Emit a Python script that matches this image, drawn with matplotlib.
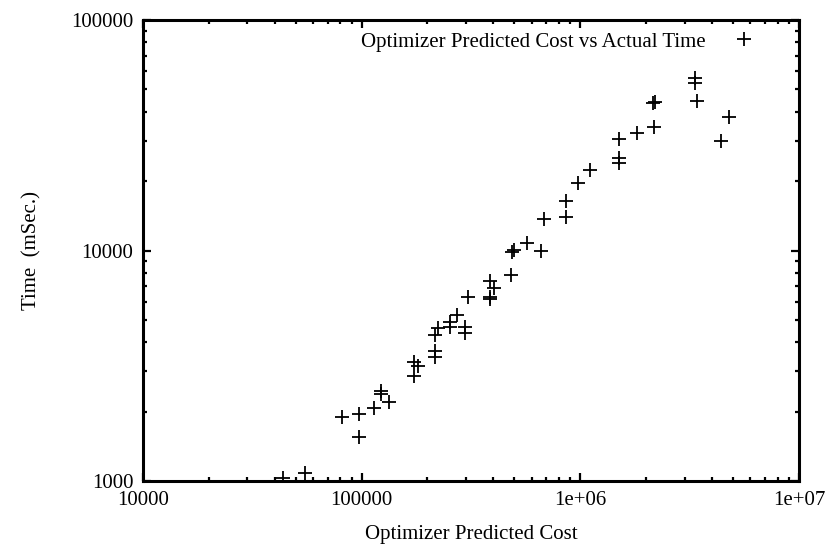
import matplotlib.pyplot as plt
import numpy as np

plt.rcParams["font.family"] = ["Liberation Serif", "DejaVu Serif"]

# optimizer cost estimate vs measured run time per query
predicted_cost = [
    43600, 55000, 81300, 97200, 97200, 113800, 122500, 122500, 133300,
    173500, 173500, 180900, 216400, 216400, 216400, 223300, 253400, 253400,
    272800, 296700, 296700, 306300, 386200, 402600, 386200, 386200, 481600,
    488000, 495000, 570000, 660600, 682000, 859500, 859500, 975000, 1106000,
    1502000, 1502000, 1502000, 1815000, 2171000, 2150000, 2200000, 3342000,
    3342000, 3413000, 4779000, 4396000,
]
actual_time = [
    1030, 1080, 1890, 1950, 1550, 2070, 2460, 2385, 2200,
    2855, 3280, 3155, 3660, 3450, 4300, 4610, 4900, 4660,
    5250, 4660, 4390, 6290, 7370, 6880, 6150, 6300, 7830,
    9900, 10050, 10780, 10000, 13700, 13970, 16400, 19630, 22350,
    30470, 25190, 23970, 32340, 34340, 43700, 44000, 56000,
    53300, 44540, 37960, 29860,
]

fig = plt.figure(figsize=(8.26, 5.45), dpi=100)
ax = fig.add_axes([0.1731, 0.1174, 0.7942, 0.8459])

ax.plot(predicted_cost, actual_time, linestyle="none", marker="+",
        markersize=10, markeredgewidth=1.3, color="black",
        label="Optimizer Predicted Cost vs Actual Time")

ax.set_xscale("log")
ax.set_yscale("log")
ax.set_xlim(1e4, 1e7)
ax.set_ylim(1e3, 1e5)

ax.set_xticks([1e4, 1e5, 1e6, 1e7])
ax.set_xticklabels(["10000", "100000", "1e+06", "1e+07"])
ax.set_yticks([1e3, 1e4, 1e5])
ax.set_yticklabels(["1000", "10000", "100000"])

for s in ax.spines.values():
    s.set_linewidth(2.2)

ax.tick_params(which="both", direction="in", top=True, right=True,
               labelsize=15, colors="black")
ax.tick_params(which="major", length=6, width=1.6, pad=7)
ax.tick_params(which="minor", length=3, width=1.6)

ax.set_xlabel("Optimizer Predicted Cost", fontsize=15, labelpad=11)
ax.set_ylabel("Time  (mSec.)", fontsize=15, labelpad=21)

ax.legend(loc="upper right", frameon=False, markerfirst=False, fontsize=15,
          handlelength=1.0, handletextpad=1.33, borderpad=0,
          borderaxespad=0, bbox_to_anchor=(0.932, 0.974))

fig.savefig("out.png", dpi=100)
